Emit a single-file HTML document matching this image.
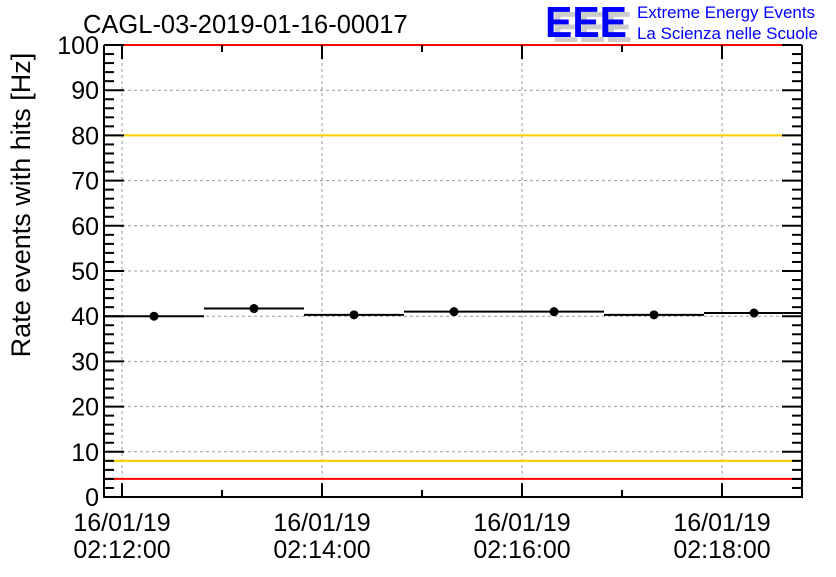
<!DOCTYPE html>
<html><head><meta charset="utf-8"><style>
body{margin:0;background:#fff;}
svg text{font-family:"Liberation Sans",sans-serif;}
</style></head><body>
<svg id="c" width="836" height="572" viewBox="0 0 836 572" xmlns="http://www.w3.org/2000/svg">
<rect width="836" height="572" fill="#fff"/>
<text x="83" y="33" font-size="25.5">CAGL-03-2019-01-16-00017</text>
<g>
<text x="552" y="42" font-size="44" font-weight="bold" fill="#ccc" textLength="80" lengthAdjust="spacingAndGlyphs">EEE</text>
<text x="545" y="37" font-size="44" font-weight="bold" fill="#0000ff" textLength="82" lengthAdjust="spacingAndGlyphs">EEE</text>
<text x="637" y="18" font-size="17" fill="#0000ff" textLength="178" lengthAdjust="spacingAndGlyphs">Extreme Energy Events</text>
<text x="637" y="39" font-size="17" fill="#0000ff" textLength="181" lengthAdjust="spacingAndGlyphs">La Scienza nelle Scuole</text>
</g>
<text transform="translate(30,205) rotate(-90)" text-anchor="middle" font-size="27">Rate events with hits [Hz]</text>
<g id="grid"></g><g id="ref"></g><g id="marks"></g><g id="axes"></g>
</svg>
<script>
const binLabels=["02:12","02:13","02:14","02:15","02:16","02:17","02:18"];
const rates=[40.0,41.7,40.3,41.0,41.0,40.3,40.7];
const refLinesRed=[100,4];
const refLinesYellow=[80,8];
const yTicks=[0,10,20,30,40,50,60,70,80,90,100];
const xTickLabels=[["16/01/19","02:12:00"],["16/01/19","02:14:00"],["16/01/19","02:16:00"],["16/01/19","02:18:00"]];
const xTickMinutes=[0,2,4,6];
const binStarts=[-0.18,0.82,1.82,2.82,3.82,4.82,5.82];
const X0=104,X1=802,Y0=497,Y1=45,XMIN=-0.18,XMAX=6.8;
const sx=m=>X0+(m-XMIN)/(XMAX-XMIN)*(X1-X0);
const sy=v=>Y0-v/100*(Y0-Y1);
const NS="http://www.w3.org/2000/svg";
function mk(p,t,a){const e=document.createElementNS(NS,t);for(const k in a)e.setAttribute(k,a[k]);p.appendChild(e);return e;}
const grid=document.getElementById('grid'),ref=document.getElementById('ref'),marks=document.getElementById('marks'),axes=document.getElementById('axes');
yTicks.forEach(v=>{if(v>0&&v<100){const l=mk(grid,'line',{x1:X0,x2:X1,y1:sy(v),y2:sy(v),stroke:'#999','stroke-dasharray':'3,3'});

}});
xTickMinutes.forEach(m=>{const l=mk(grid,'line',{x1:sx(m),x2:sx(m),y1:Y1,y2:Y0,stroke:'#999','stroke-dasharray':'3,3'});

});
refLinesYellow.forEach(v=>{const l=mk(ref,'line',{x1:X0,x2:X1,y1:sy(v),y2:sy(v),stroke:'#ffcc00','stroke-width':2});

});
refLinesRed.forEach(v=>{const l=mk(ref,'line',{x1:X0,x2:X1,y1:sy(v),y2:sy(v),stroke:'#ff0000','stroke-width':2});

});
rates.forEach((r,i)=>{const a=binStarts[i],b=Math.min(a+1,XMAX);
const l=mk(marks,'line',{x1:sx(a),x2:sx(b),y1:sy(r),y2:sy(r),stroke:'#000','stroke-width':2});


const c=mk(marks,'circle',{cx:sx(a+0.5),cy:sy(r),r:4.5,fill:'#000'});

});
const fr=mk(axes,'path',{d:`M${X0} ${Y1}V${Y0}H${X1}V${Y1}`,fill:'none',stroke:'#000','stroke-width':2});


for(let v=0;v<=100;v+=2){const L=v%10===0?20:10;
mk(axes,'line',{x1:X0,x2:X0+L,y1:sy(v),y2:sy(v),stroke:'#000','stroke-width':2});
mk(axes,'line',{x1:X1,x2:X1-L,y1:sy(v),y2:sy(v),stroke:'#000','stroke-width':2});}
yTicks.forEach(v=>{const t=mk(axes,'text',{x:X0-5,y:sy(v)+9,'text-anchor':'end','font-size':25});t.textContent=v;

});
for(let m=0;m<=6;m++){const L=m%2===0?14:7;
mk(axes,'line',{x1:sx(m),x2:sx(m),y1:Y0,y2:Y0-L,stroke:'#000','stroke-width':2});
mk(axes,'line',{x1:sx(m),x2:sx(m),y1:Y1,y2:Y1+L,stroke:'#000','stroke-width':2});}
xTickMinutes.forEach((m,i)=>{[0,1].forEach(j=>{const t=mk(axes,'text',{x:sx(m),y:531+j*27,'text-anchor':'middle','font-size':25});t.textContent=xTickLabels[i][j];

});});
</script>
</body></html>
